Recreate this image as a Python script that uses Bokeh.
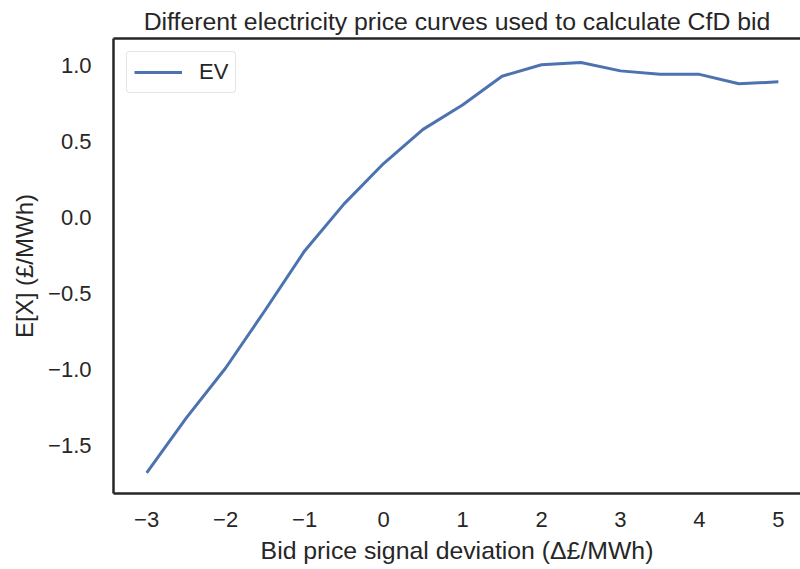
from bokeh.plotting import figure
from bokeh.models import (Range1d, FixedTicker, CustomJSTickFormatter, LinearAxis,
                          Legend, LegendItem)
from bokeh.embed import file_html
from bokeh.resources import INLINE

# ---- data ----
bid_deviation = [-3.0, -2.5, -2.0, -1.5, -1.0, -0.5, 0.0, 0.5, 1.0,
                 1.5, 2.0, 2.5, 3.0, 3.5, 4.0, 4.5, 5.0]
ev_values = [-1.68, -1.32, -0.99, -0.61, -0.22, 0.09, 0.355, 0.58, 0.74,
             0.93, 1.005, 1.02, 0.965, 0.943, 0.942, 0.88, 0.893]
x_ticks = [-3, -2, -1, 0, 1, 2, 3, 4, 5]
y_ticks = [-1.5, -1.0, -0.5, 0.0, 0.5, 1.0]

TEXT = "#262626"
FONT = "Liberation Sans"

p = figure(width=800, height=569, output_backend="svg", toolbar_location=None,
           x_range=Range1d(-3.42, 5.28), y_range=Range1d(-1.816, 1.178),
           min_border_left=113, min_border_right=0, min_border_top=38,
           min_border_bottom=76,
           title="Different electricity price curves used to calculate CfD bid")

p.background_fill_color = "white"
p.border_fill_color = "white"
p.outline_line_color = None
p.xgrid.visible = False
p.ygrid.visible = False

p.title.text_font = FONT
p.title.text_font_size = "24.8px"
p.title.text_font_style = "normal"
p.title.text_color = TEXT
p.title.align = "center"
p.title.standoff = 8
p.title.offset = 5

r = p.line(bid_deviation, ev_values, line_color="#4c72b0", line_width=3)

for ax in (p.xaxis[0], p.yaxis[0]):
    ax.axis_line_color = TEXT
    ax.axis_line_width = 2.5
    ax.major_tick_out = 0
    ax.major_tick_in = 0
    ax.minor_tick_out = 0
    ax.minor_tick_in = 0
    ax.major_label_text_font = FONT
    ax.major_label_text_font_size = "22px"
    ax.major_label_text_color = TEXT
    ax.axis_label_text_font = FONT
    ax.axis_label_text_font_style = "normal"
    ax.axis_label_text_color = TEXT

p.xaxis[0].axis_label_text_font_size = "24.8px"
p.yaxis[0].axis_label_text_font_size = "24px"
p.xaxis[0].ticker = FixedTicker(ticks=x_ticks)
p.yaxis[0].ticker = FixedTicker(ticks=y_ticks)
p.xaxis[0].formatter = CustomJSTickFormatter(
    code="return tick.toFixed(0).replace('-', '\u2212');")
p.yaxis[0].formatter = CustomJSTickFormatter(
    code="return tick.toFixed(1).replace('-', '\u2212');")
p.xaxis[0].major_label_standoff = 18
p.yaxis[0].major_label_standoff = 22
p.xaxis[0].axis_label = "Bid price signal deviation (\u0394\u00a3/MWh)"
p.yaxis[0].axis_label = "E[X] (\u00a3/MWh)"
p.xaxis[0].axis_label_standoff = 7
p.yaxis[0].axis_label_standoff = 7

top_axis = LinearAxis(ticker=FixedTicker(ticks=[]), axis_line_color=TEXT,
                      axis_line_width=2.5, major_tick_out=0, major_tick_in=0,
                      minor_tick_out=0, minor_tick_in=0,
                      major_label_text_font_size="0px", major_label_standoff=0)
p.add_layout(top_axis, "above")

legend = Legend(items=[LegendItem(label="EV", renderers=[r])],
                location="top_left")
legend.margin = 13
legend.padding = 7
legend.spacing = 0
legend.glyph_width = 48
legend.glyph_height = 22
legend.label_standoff = 17
legend.label_height = 22
legend.label_text_font = FONT
legend.label_text_font_size = "22px"
legend.label_text_color = TEXT
legend.border_line_color = "#cccccc"
legend.border_line_width = 1.3
legend.background_fill_color = "white"
legend.background_fill_alpha = 0.8
legend.border_radius = 4
p.add_layout(legend)

open("out.html", "w").write(file_html(p, INLINE))
